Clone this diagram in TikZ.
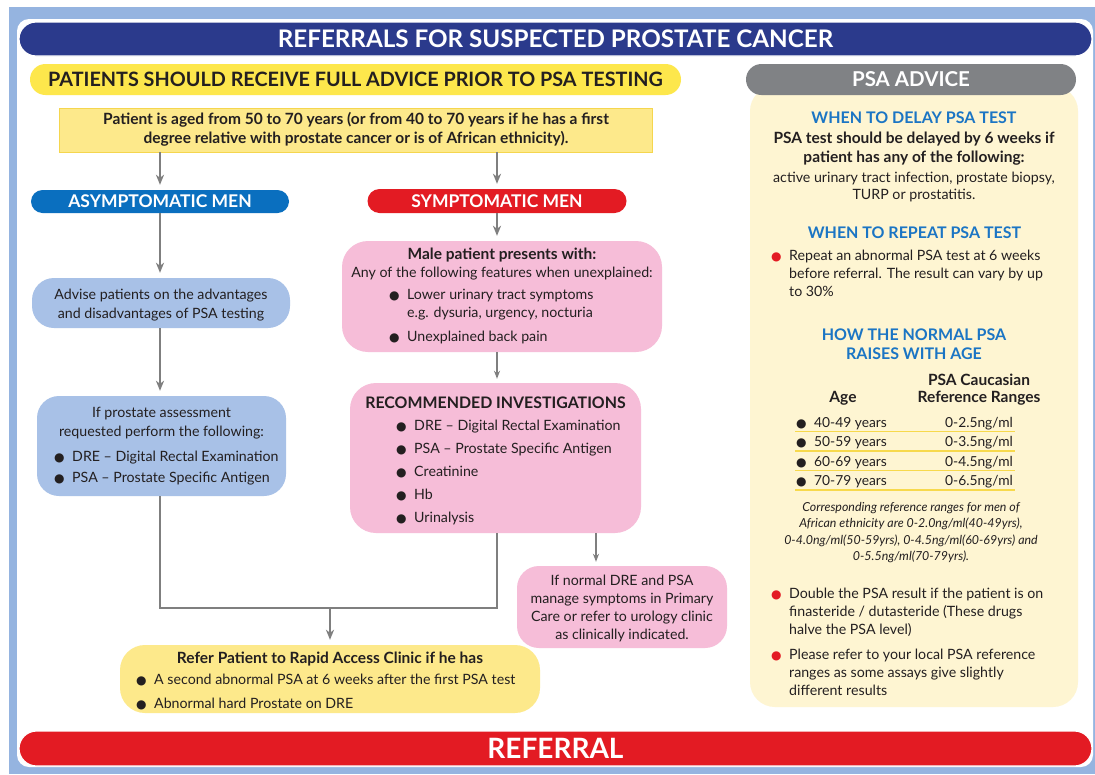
\documentclass[tikz,border=0pt]{standalone}
\usepackage{fontspec}
\setmainfont{Lato}
\newfontfamily\dejavu{DejaVu Sans}
\usetikzlibrary{arrows.meta}
\definecolor{bgblue}{HTML}{95B4E0}
\definecolor{navy}{HTML}{2B3A8C}
\definecolor{banyellow}{HTML}{FDE74C}
\definecolor{bangray}{HTML}{808285}
\definecolor{panelyel}{HTML}{FEF5D2}
\definecolor{boxyel}{HTML}{FDE98B}
\definecolor{boxyeld}{HTML}{F5D64E}
\definecolor{asblue}{HTML}{0A6FBF}
\definecolor{syred}{HTML}{E31B23}
\definecolor{ltblue}{HTML}{A8C1E7}
\definecolor{pink}{HTML}{F6BDD8}
\definecolor{headblue}{HTML}{1B75C4}
\definecolor{arrgray}{HTML}{7F7F7F}
\definecolor{ink}{HTML}{231F20}
\definecolor{sepyel}{HTML}{F7D94C}
\newcommand\fs[2]{\fontsize{#1}{#2}\selectfont}
\newcommand\bul{{\dejavu\fontsize{12}{12}\selectfont ●}}
\newcommand\bl{\makebox[18pt][l]{\bul}}
\newcommand\rbl{\makebox[18pt][l]{\color{syred}\bul}}
\begin{document}
\begin{tikzpicture}[x=1pt,y=-1pt,
  every node/.style={inner sep=0pt, text=ink},
  bann/.style={font=\fs{19.8}{19.8}\bfseries},
  arr/.style={draw=arrgray, line width=2.8pt, shorten >=5pt, -{Stealth[length=10pt,width=8pt,inset=3pt]}},
  arrthin/.style={draw=arrgray, line width=1.4pt, shorten >=4pt, -{Stealth[length=8pt,width=6pt,inset=2.5pt]}},
  link/.style={draw=arrgray, line width=2.8pt},
  sep/.style={draw=sepyel, line width=1.2pt}
]
\useasboundingbox (0,0) rectangle (1095,774);
\fill[bgblue] (9,7) rectangle (1095,774);
\fill[white, rounded corners=12pt] (17,19) rectangle (1093,767);

% banners
\node[fill=navy, draw=white, line width=1.2pt, rounded corners=17pt, minimum width=1073pt, minimum height=34pt, text=white, font=\fs{24.2}{24.2}\bfseries] (title) at (555.5,39) {REFERRALS FOR SUSPECTED PROSTATE CANCER};
\node[fill=banyellow, rounded corners=15.5pt, minimum width=651pt, minimum height=31pt, bann] (advban) at (355.5,79.5) {PATIENTS SHOULD RECEIVE FULL ADVICE PRIOR TO PSA TESTING};
\node[fill=panelyel, rounded corners=25pt, minimum width=328pt, minimum height=621pt] (panel) at (914,396.5) {};
\node[fill=bangray, rounded corners=15.5pt, minimum width=330pt, minimum height=31pt, font=\fs{20.5}{20.5}\bfseries, text=white] (psaban) at (911,79.5) {PSA ADVICE};
\node[fill=syred, draw=white, line width=1.2pt, rounded corners=17.5pt, minimum width=1073pt, minimum height=35pt, text=white, font=\fs{28}{28}\bfseries] (referral) at (555.5,748.5) {REFERRAL};

% flow boxes
\node[fill=boxyel, draw=boxyeld, line width=0.8pt, minimum width=593pt, minimum height=44pt] (patient) at (355.5,130) {};
\node[fill=asblue, rounded corners=11.5pt, minimum width=258pt, minimum height=23pt, text=white, font=\fs{17.5}{17.5}\bfseries] (asym) at (160,201.5) {ASYMPTOMATIC MEN};
\node[fill=syred, rounded corners=12pt, minimum width=259pt, minimum height=24pt, text=white, font=\fs{17.5}{17.5}\bfseries] (sym) at (497,201) {SYMPTOMATIC MEN};
\node[fill=ltblue, rounded corners=22pt, minimum width=258pt, minimum height=50pt] (advise) at (161,303) {};
\node[fill=ltblue, rounded corners=22pt, minimum width=249pt, minimum height=100pt] (prost) at (161.5,446) {};
\node[fill=pink, rounded corners=26pt, minimum width=320pt, minimum height=111pt] (male) at (502,296.5) {};
\node[fill=pink, rounded corners=26pt, minimum width=291pt, minimum height=150pt] (rec) at (495.5,458) {};
\node[fill=pink, rounded corners=22pt, minimum width=210pt, minimum height=82pt] (normal) at (622,607) {};
\node[fill=boxyel, rounded corners=25pt, minimum width=420pt, minimum height=68pt] (refer) at (330,679) {};

% texts in flow boxes
\node[anchor=base, font=\fs{15.5}{19}\bfseries] (tpatient) at (356,124.5) {\begin{tabular}[t]{@{}c@{}}Patient is aged from 50 to 70 years (or from 40 to 70 years if he has a first\\degree relative with prostate cancer or is of African ethnicity).\end{tabular}};
\node[anchor=base, font=\fs{14.2}{19}] (tadvise) at (161,299) {\begin{tabular}[t]{@{}c@{}}Advise patients on the advantages\\and disadvantages of PSA testing\end{tabular}};
\node[anchor=base, font=\fs{14.2}{19}] (tprost) at (161.5,417) {\begin{tabular}[t]{@{}c@{}}If prostate assessment\\requested perform the following:\end{tabular}};
\node[anchor=base west, font=\fs{14.2}{21}] (lprost) at (54,461) {\begin{tabular}[t]{@{}l@{}}\bl DRE -- Digital Rectal Examination\\\bl PSA -- Prostate Specific Antigen\end{tabular}};
\node[anchor=base, font=\fs{14.2}{18}] (tmale) at (502,259) {\begin{tabular}[t]{@{}c@{}}\fs{15.5}{18}\textbf{Male patient presents with:}\\Any of the following features when unexplained:\end{tabular}};
\node[anchor=base west, font=\fs{14.2}{18}] (lmale) at (389,299) {\begin{tabular}[t]{@{}l@{}}\bl Lower urinary tract symptoms\\\hspace{18pt}e.g. dysuria, urgency, nocturia\\[6pt]\bl Unexplained back pain\end{tabular}};
\node[anchor=base, font=\fs{15.9}{16}\bfseries] (trec) at (495.5,408) {RECOMMENDED INVESTIGATIONS};
\node[anchor=base west, font=\fs{14.2}{23}] (lrec) at (396,430) {\begin{tabular}[t]{@{}l@{}}\bl DRE -- Digital Rectal Examination\\\bl PSA -- Prostate Specific Antigen\\\bl Creatinine\\\bl Hb\\\bl Urinalysis\end{tabular}};
\node[anchor=base, font=\fs{14.2}{18}] (tnormal) at (622,585) {\begin{tabular}[t]{@{}c@{}}If normal DRE and PSA\\manage symptoms in Primary\\Care or refer to urology clinic\\as clinically indicated.\end{tabular}};
\node[anchor=base, font=\fs{15.5}{16}\bfseries] (trefer) at (330,663.5) {Refer Patient to Rapid Access Clinic if he has};
\node[anchor=base west, font=\fs{14.2}{24}] (lrefer) at (136,684) {\begin{tabular}[t]{@{}l@{}}\bl A second abnormal PSA at 6 weeks after the first PSA test\\\bl Abnormal hard Prostate on DRE\end{tabular}};

% PSA advice panel texts
\node[anchor=base, text=headblue, font=\fs{16}{16}\bfseries] (hdelay) at (914,123.5) {WHEN TO DELAY PSA TEST};
\node[anchor=base, font=\fs{15.5}{19}\bfseries] (tdelay) at (914,143.5) {\begin{tabular}[t]{@{}c@{}}PSA test should be delayed by 6 weeks if\\patient has any of the following:\end{tabular}};
\node[anchor=base, font=\fs{14.2}{17.5}] (tdelay2) at (914,182) {\begin{tabular}[t]{@{}c@{}}active urinary tract infection, prostate biopsy,\\TURP or prostatitis.\end{tabular}};
\node[anchor=base, text=headblue, font=\fs{16}{16}\bfseries] (hrepeat) at (914.5,238.5) {WHEN TO REPEAT PSA TEST};
\node[anchor=base west, font=\fs{14.2}{18}] (lrepeat) at (771,260) {\begin{tabular}[t]{@{}l@{}}\rbl Repeat an abnormal PSA test at 6 weeks\\\hspace{18pt}before referral. The result can vary by up\\\hspace{18pt}to 30\%\end{tabular}};
\node[anchor=base, text=headblue, font=\fs{16}{18.5}\bfseries] (hnormal) at (914,340.5) {\begin{tabular}[t]{@{}c@{}}HOW THE NORMAL PSA\\RAISES WITH AGE\end{tabular}};
\node[anchor=base, font=\fs{15.5}{17}\bfseries] (hcauc) at (979,385.5) {\begin{tabular}[t]{@{}c@{}}PSA Caucasian\\Reference Ranges\end{tabular}};
\node[anchor=base, font=\fs{15.5}{16}\bfseries] (hage) at (843,402.5) {Age};
\node[anchor=base west, font=\fs{13.8}{19.5}] (lages) at (796,427) {\begin{tabular}[t]{@{}l@{}}\bl 40-49 years\\\bl 50-59 years\\\bl 60-69 years\\\bl 70-79 years\end{tabular}};
\node[anchor=base, font=\fs{13.8}{19.5}] (lvals) at (979,427) {\begin{tabular}[t]{@{}c@{}}0-2.5ng/ml\\0-3.5ng/ml\\0-4.5ng/ml\\0-6.5ng/ml\end{tabular}};
\foreach \yy in {431.5,451,470.5,490} \draw[sep] (795,\yy) -- (1015,\yy);
\node[anchor=base, font=\fs{12.4}{16.5}\itshape] (tafr) at (911,511) {\begin{tabular}[t]{@{}c@{}}Corresponding reference ranges for men of\\African ethnicity are 0-2.0ng/ml(40-49yrs),\\0-4.0ng/ml(50-59yrs), 0-4.5ng/ml(60-69yrs) and\\0-5.5ng/ml(70-79yrs).\end{tabular}};
\node[anchor=base west, font=\fs{14.2}{18}] (ldouble) at (771,598) {\begin{tabular}[t]{@{}l@{}}\rbl Double the PSA result if the patient is on\\\hspace{18pt}finasteride / dutasteride (These drugs\\\hspace{18pt}halve the PSA level)\\[7pt]\rbl Please refer to your local PSA reference\\\hspace{18pt}ranges as some assays give slightly\\\hspace{18pt}different results\end{tabular}};

% connectors
\coordinate (ca) at (160,0);
\coordinate (cs) at (497,0);
\coordinate (cn) at (596,0);
\coordinate (join) at (330,608);
\draw[arr, line width=2.5pt] (ca |- patient.south) -- (ca |- asym.north);
\draw[arr, line width=2.5pt] (cs |- patient.south) -- (cs |- sym.north);
\draw[arr] (ca |- asym.south) -- (ca |- advise.north);
\draw[arr] (ca |- advise.south) -- (ca |- prost.north);
\draw[arr, line width=2.3pt] (cs |- sym.south) -- (cs |- male.north);
\draw[arrthin] (cs |- male.south) -- (cs |- rec.north);
\draw[arrthin, line width=1.2pt] (cn |- rec.south) -- (cn |- normal.north);
\draw[link] (ca |- prost.south) -- (ca |- join) -- (cs |- join) -- (cs |- rec.south);
\draw[arr] (join) -- (join |- refer.north);
\end{tikzpicture}
\end{document}
